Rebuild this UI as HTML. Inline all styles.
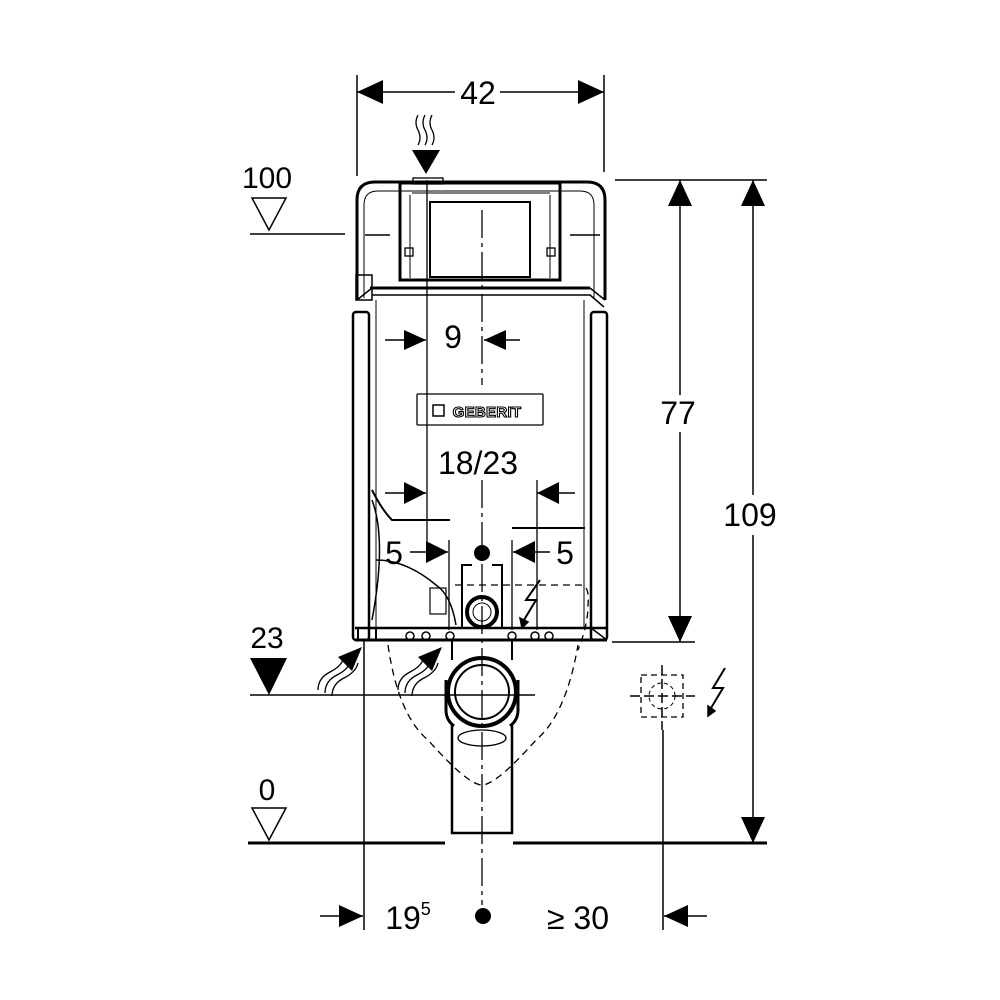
<!DOCTYPE html>
<html><head><meta charset="utf-8"><style>
html,body{margin:0;padding:0;background:#fff}
svg{display:block}
text{font-family:"Liberation Sans",sans-serif;fill:#000}
</style></head><body>
<svg width="1000" height="1000" viewBox="0 0 1000 1000" xmlns="http://www.w3.org/2000/svg">
<g stroke="#000" fill="none" stroke-width="1.5">
<!-- top dim 42 -->
<line x1="357" y1="75" x2="357" y2="176"/>
<line x1="604" y1="75" x2="604" y2="172"/>
<line x1="357" y1="92" x2="455" y2="92"/><line x1="500" y1="92" x2="604" y2="92"/>
<path d="M357,92 l26,-12 v24z M604,92 l-26,-12 v24z" fill="#000" stroke="none"/>
<path d="M418,115 q-4,8 0,15 q4,8 0,15 M425,115 q-4,8 0,15 q4,8 0,15 M432,115 q-4,8 0,15 q4,8 0,15" stroke-width="1.3"/>
<path d="M412,150 h28 l-14,24z" fill="#000" stroke="none"/>

<!-- cistern top -->
<path d="M357,300 V200 q0,-18 18,-18 H587 q18,0 18,18 V300" stroke-width="3"/>
<path d="M364,298 V205 q0,-14 14,-14 H580 q14,0 14,14 V298" stroke-width="1"/>
<rect x="400" y="183" width="160" height="97" stroke-width="3"/>
<rect x="430" y="202" width="100" height="75" stroke-width="2"/>
<line x1="410" y1="195" x2="410" y2="278" stroke-width="1"/><line x1="550" y1="195" x2="550" y2="278" stroke-width="1"/>
<rect x="405" y="248" width="8" height="8" stroke-width="1.3"/><rect x="547" y="248" width="8" height="8" stroke-width="1.3"/>
<line x1="412" y1="193" x2="550" y2="193" stroke-width="1"/>
<rect x="413" y="178" width="30" height="6" stroke-width="1.3"/>
<line x1="365" y1="235" x2="390" y2="235"/><line x1="570" y1="235" x2="600" y2="235"/>
<line x1="370" y1="288" x2="590" y2="288" stroke-width="3"/>
<path d="M357,300 l15,-12 M605,300 l-15,-12" stroke-width="1.5"/>
<rect x="356" y="275" width="16" height="25" stroke-width="1.5"/>
<!-- body -->
<rect x="353" y="312" width="16" height="328" stroke-width="2.5" rx="3"/>
<rect x="591" y="312" width="16" height="328" stroke-width="2.5" rx="3"/>
<line x1="376" y1="300" x2="376" y2="628" stroke-width="1"/>
<line x1="584" y1="300" x2="584" y2="628" stroke-width="1"/>
<path d="M372,295 H590 l14,12" stroke-width="1.5"/>
<line x1="355" y1="628" x2="607" y2="628" stroke-width="2.5"/>
<line x1="355" y1="640" x2="607" y2="640" stroke-width="3"/>
<path d="M591,628 l16,12" stroke-width="1.5"/>
<path d="M372,490 q10,20 20,30 H450 M512,528 H585" stroke-width="2"/>
<path d="M376,560 q30,0 60,25 q15,10 20,40" stroke-width="1.5"/>
<rect x="430" y="588" width="16" height="26" stroke-width="1.2"/>
<rect x="358" y="628" width="18" height="12" stroke-width="2"/>
<path d="M372,500 q15,40 0,120" stroke-width="1.5"/>
<g stroke-width="1.5"><circle cx="410" cy="636" r="4"/><circle cx="426" cy="636" r="4"/><circle cx="450" cy="636" r="4"/><circle cx="512" cy="636" r="4"/><circle cx="535" cy="636" r="4"/><circle cx="549" cy="636" r="4"/></g>
<path d="M462,628 V565 H472 M502,628 V565 H492" stroke-width="2"/>
<circle cx="482" cy="612" r="15" stroke-width="4"/>
<circle cx="482" cy="612" r="9" stroke-width="1"/>
<path d="M452,640 V660 M512,640 V660" stroke-width="2"/>
<circle cx="482" cy="692" r="34" stroke-width="4"/>
<circle cx="482" cy="692" r="27" stroke-width="2"/>
<path d="M446,680 v30 q0,10 8,16 M518,680 v30 q0,10 -8,16" stroke-width="3"/>
<path d="M452,725 V833 H512 V725" stroke-width="2.5"/>
<ellipse cx="482" cy="738" rx="24" ry="8" stroke-width="1.3"/>
<path d="M388,645 q10,70 40,95 q40,45 54,45 q14,0 54,-45 q30,-25 42,-95 M455,585 H580 q10,0 8,20 q0,20 -10,45" stroke-dasharray="7,5" stroke-width="1.3"/>
<!-- centerline -->
<line x1="482" y1="210" x2="482" y2="385" stroke-dasharray="28,5,4,5" stroke-width="1.3"/>
<line x1="482" y1="480" x2="482" y2="905" stroke-dasharray="28,5,4,5" stroke-width="1.3"/>

<!-- 9 dim -->
<line x1="427" y1="180" x2="427" y2="545" stroke-width="1.3"/>
<path d="M385,340 H426 M520,340 H484"/>
<path d="M426,340 l-22,-10 v20z M484,340 l22,-10 v20z" fill="#000" stroke="none"/>
<line x1="537" y1="480" x2="537" y2="630" stroke-width="1.3"/>
<path d="M385,493 H426 M575,493 H537"/>
<path d="M426,493 l-22,-11 v22z M537,493 l22,-11 v22z" fill="#000" stroke="none"/>
<line x1="449" y1="540" x2="449" y2="630" stroke-width="1.3"/>
<line x1="512" y1="540" x2="512" y2="630" stroke-width="1.3"/>
<path d="M410,552 H448 M550,552 H513"/>
<path d="M448,552 l-22,-11 v22z M513,552 l22,-11 v22z" fill="#000" stroke="none"/>
<circle cx="482" cy="553" r="8" fill="#000" stroke="none"/>
<path d="M540,580 l-14,20 h10 l-12,20" stroke-width="2"/>
<path d="M522,628 l-2,-10 l8,4z" fill="#000"/>

<!-- levels -->
<path d="M252,198 h34 l-17,32z" stroke-width="1.5"/>
<line x1="250" y1="234" x2="345" y2="234"/>
<path d="M250,658 h37 l-18,37z" fill="#000" stroke="none"/>
<line x1="250" y1="695" x2="535" y2="695"/>
<path d="M252,808 h34 l-17,32z" stroke-width="1.5"/>
<line x1="248" y1="843" x2="445" y2="843" stroke-width="3"/>
<line x1="513" y1="843" x2="767" y2="843" stroke-width="3"/>

<path d="M318,690 q0,-12 12,-18 q12,-6 14,-15 M325,693 q0,-12 12,-18 q12,-6 14,-15 M332,696 q0,-12 12,-18 q12,-6 14,-15" stroke-width="1.3"/>
<path d="M362,647 l-24,10 l14,14z" fill="#000" stroke="none"/>
<path d="M398,690 q0,-12 12,-18 q12,-6 14,-15 M405,693 q0,-12 12,-18 q12,-6 14,-15 M412,696 q0,-12 12,-18 q12,-6 14,-15" stroke-width="1.3"/>
<path d="M442,647 l-24,10 l14,14z" fill="#000" stroke="none"/>

<!-- right dims -->
<line x1="615" y1="180" x2="767" y2="180"/>
<line x1="612" y1="642" x2="695" y2="642"/>
<line x1="680" y1="180" x2="680" y2="395"/><line x1="680" y1="432" x2="680" y2="642"/>
<path d="M680,180 l-12,26 h24z M680,642 l-12,-26 h24z" fill="#000" stroke="none"/>
<line x1="753" y1="180" x2="753" y2="495"/><line x1="753" y1="535" x2="753" y2="843"/>
<path d="M753,180 l-12,26 h24z M753,843 l-12,-26 h24z" fill="#000" stroke="none"/>

<rect x="641" y="675" width="42" height="42" stroke-dasharray="6,4" stroke-width="1.3"/>
<circle cx="662" cy="696" r="13" stroke-dasharray="4,3" stroke-width="1"/>
<line x1="630" y1="696" x2="695" y2="696" stroke-dasharray="10,4"/>
<line x1="662" y1="665" x2="662" y2="730" stroke-dasharray="10,4"/>
<path d="M725,668 l-12,20 h10 l-12,20" stroke-width="2"/>
<path d="M708,716 l0,-10 l7,5z" fill="#000"/>

<line x1="364" y1="640" x2="364" y2="930"/>
<line x1="663" y1="730" x2="663" y2="930"/>
<path d="M320,916 H363 M707,916 H664"/>
<path d="M363,916 l-24,-11 v22z M664,916 l24,-11 v22z" fill="#000" stroke="none"/>
<circle cx="483" cy="916" r="8" fill="#000" stroke="none"/>

<rect x="417" y="394" width="126" height="31" stroke-width="1.3" rx="1"/>
<rect x="433" y="405" width="11" height="11" stroke-width="1.5"/>
</g>
<text x="478" y="104" font-size="32" text-anchor="middle">42</text>
<text x="267" y="188" font-size="30" text-anchor="middle">100</text>
<text x="453" y="348" font-size="32" text-anchor="middle">9</text>
<text x="487" y="417" font-size="15" font-weight="bold" text-anchor="middle" style="fill:#fff;stroke:#000;stroke-width:1.1" letter-spacing="0.3">GEBERIT</text>
<text x="678" y="424" font-size="32" text-anchor="middle">77</text>
<text x="478" y="474" font-size="32" text-anchor="middle">18/23</text>
<text x="750" y="526" font-size="32" text-anchor="middle">109</text>
<text x="394" y="564" font-size="32" text-anchor="middle">5</text>
<text x="565" y="564" font-size="32" text-anchor="middle">5</text>
<text x="267" y="648" font-size="30" text-anchor="middle">23</text>
<text x="267" y="800" font-size="30" text-anchor="middle">0</text>
<text x="408" y="929" font-size="32" text-anchor="middle">19<tspan font-size="18" dy="-14">5</tspan></text>
<text x="578" y="929" font-size="32" text-anchor="middle">≥ 30</text>
</svg>
</body></html>
